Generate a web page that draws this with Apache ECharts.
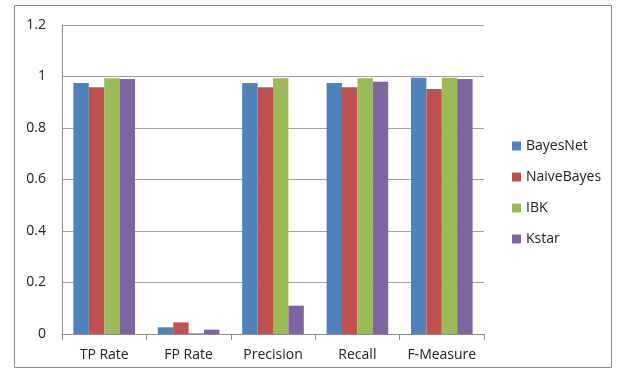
<!DOCTYPE html>
<html><head><meta charset="utf-8">
<script src="https://cdn.jsdelivr.net/npm/echarts@6/dist/echarts.min.js"></script>
<style>html,body{margin:0;padding:0;background:#fff}#c{width:621px;height:378px}</style>
</head><body><div id="c"></div>
<script>
const categories = ['TP Rate', 'FP Rate', 'Precision', 'Recall', 'F-Measure'];
const seriesNames = ['BayesNet', 'NaiveBayes', 'IBK', 'Kstar'];
const bayesNet = [0.975, 0.026, 0.975, 0.975, 0.995];
const naiveBayes = [0.958, 0.045, 0.958, 0.958, 0.951];
const ibk = [0.993, 0.004, 0.993, 0.993, 0.995];
const kstar = [0.99, 0.017, 0.11, 0.98, 0.99];
const yTicks = [0, 0.2, 0.4, 0.6, 0.8, 1, 1.2];
const colors = ['#4F81BD', '#C0504D', '#9BBB59', '#8064A2'];
const values = [bayesNet, naiveBayes, ibk, kstar];
const font = '"Open Sans", sans-serif';

const chart = echarts.init(document.getElementById('c'));
chart.setOption({
  animation: false,
  graphic: [{type: 'rect', shape: {x: 14.5, y: 5.5, width: 597, height: 362}, style: {fill: 'none', stroke: '#8a8a8a', lineWidth: 1}, z: -1}],
  grid: {left: 62, right: 137, top: 25, bottom: 44},
  legend: {
    orient: 'vertical', left: 507, top: 134, itemGap: 17, itemWidth: 9, itemHeight: 9,
    icon: 'rect', data: seriesNames,
    textStyle: {fontFamily: font, fontSize: 14, color: '#222'}
  },
  xAxis: {
    type: 'category', data: categories,
    axisLine: {lineStyle: {color: '#8c8c8c'}},
    axisTick: {show: true, length: 6, lineStyle: {color: '#8c8c8c'}},
    axisLabel: {interval: 0, fontFamily: font, fontSize: 14, color: '#222', margin: 14}
  },
  yAxis: {
    type: 'value', min: 0, max: 1.2, interval: 0.2,
    axisLine: {show: true, lineStyle: {color: '#8c8c8c'}},
    axisTick: {show: false},
    splitLine: {lineStyle: {color: '#a0a0a0'}},
    axisLabel: {fontFamily: font, fontSize: 14, color: '#222', margin: 16,
      formatter: v => { const t = yTicks.find(x => Math.abs(x - v) < 1e-9); return t === undefined ? '' : String(t); }}
  },
  series: seriesNames.map((n, i) => ({
    name: n, type: 'bar', data: values[i], barGap: '0%', barCategoryGap: '27%',
    itemStyle: {color: colors[i]}
  }))
});
</script></body></html>
